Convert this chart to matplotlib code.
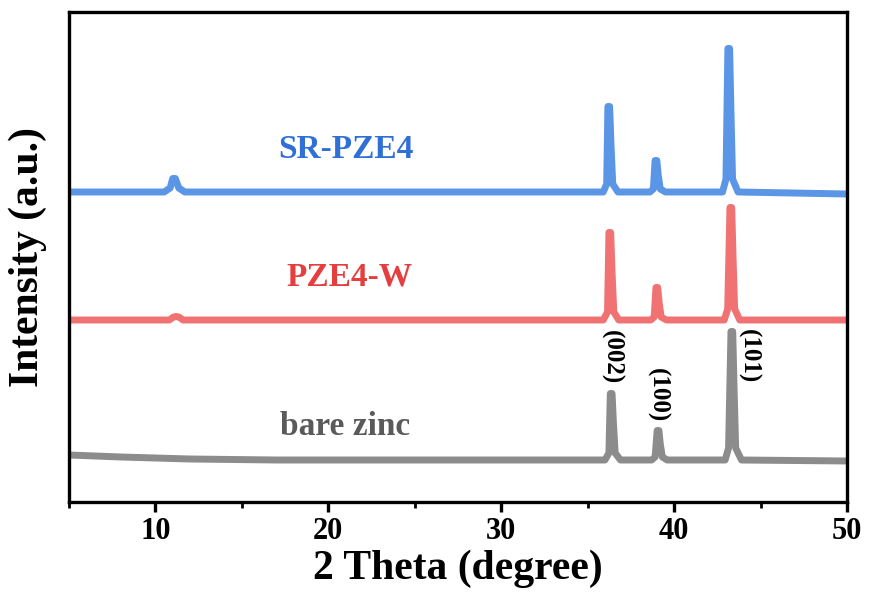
import matplotlib
matplotlib.use("Agg")
import matplotlib.pyplot as plt
from matplotlib.ticker import MultipleLocator

plt.rcParams["font.family"] = ["Liberation Serif", "DejaVu Serif"]
plt.rcParams["font.weight"] = "bold"

# ---- XRD traces: (2-theta, intensity above each trace's own baseline) ----
sr_angle = [5.0, 10.5, 10.85, 11.0, 11.15, 11.35, 11.7, 35.9, 36.1, 36.17, 36.27, 36.35, 36.45, 36.75,
            38.6, 38.8, 38.9, 39.0, 39.08, 39.2, 39.5, 42.8, 43.0, 43.11, 43.21, 43.29, 43.38, 43.7, 50.0]
sr_int = [0, 0, 40, 135, 135, 40, 0, 0, 80, 855, 855, 470, 80, 0,
          0, 30, 315, 315, 170, 30, 0, 0, 130, 1435, 1435, 790, 130, 0, -20]

w_angle = [5.0, 10.8, 11.05, 11.2, 11.35, 11.6, 35.9, 36.15, 36.23, 36.33, 36.41, 36.51, 36.8,
           38.65, 38.85, 38.95, 39.05, 39.13, 39.25, 39.55, 42.9, 43.1, 43.23, 43.33, 43.41, 43.5, 43.8, 50.0]
w_int = [0, 0, 30, 35, 30, 0, 0, 80, 875, 875, 480, 80, 0,
         0, 30, 325, 325, 180, 30, 0, 0, 110, 1125, 1125, 620, 110, 0, 0]

bare_angle = [5.0, 8.0, 12.0, 17.0, 36.0, 36.23, 36.31, 36.41, 36.49, 36.59, 36.9,
              38.7, 38.9, 39.02, 39.12, 39.2, 39.32, 39.6, 42.95, 43.15, 43.29, 43.39, 43.47, 43.56, 43.9, 50.0]
bare_int = [50, 30, 10, 0, 0, 70, 665, 665, 370, 70, 0,
            0, 30, 295, 295, 160, 30, 0, 0, 120, 1285, 1285, 700, 120, 0, -10]

# vertical offsets that stack the three patterns
offsets = {"SR-PZE4": 3100, "PZE4-W": 1820, "bare zinc": 420}

line_colors = {"SR-PZE4": "#5b95e6", "PZE4-W": "#f07272", "bare zinc": "#8c8c8c"}
text_colors = {"SR-PZE4": "#2f6fd6", "PZE4-W": "#e53e3e", "bare zinc": "#5a5a5a"}

# sample name anchors (2-theta, intensity)
name_pos = {"SR-PZE4": (21.0, 3440), "PZE4-W": (21.25, 2170), "bare zinc": (20.95, 670)}

# Miller indices of the zinc reflections
hkl_labels = ["(002)", "(100)", "(101)"]
hkl_angle = [36.35, 39.05, 44.3]
hkl_y = [1450, 1070, 1460]

fig = plt.figure(figsize=(8.7, 5.94), dpi=100)
ax = fig.add_axes([69 / 870, 92 / 594, 778 / 870, 490 / 594])

series = {
    "SR-PZE4": (sr_angle, sr_int),
    "PZE4-W": (w_angle, w_int),
    "bare zinc": (bare_angle, bare_int),
}
for name, (xs, ys) in series.items():
    off = offsets[name]
    ax.plot(xs, [v + off for v in ys], color=line_colors[name], lw=5.0,
            solid_joinstyle="round", solid_capstyle="butt", zorder=2)
    tx, ty = name_pos[name]
    ax.text(tx, ty, name, color=text_colors[name], fontsize=24, fontweight="bold",
            ha="center", va="baseline")

for lab, x, y in zip(hkl_labels, hkl_angle, hkl_y):
    ax.text(x, y, lab, rotation=-90, fontsize=18, fontweight="bold",
            ha="center", va="center", color="black")

ax.set_xlim(5, 50)
ax.set_ylim(0, 4900)
ax.xaxis.set_major_locator(MultipleLocator(10))
ax.xaxis.set_minor_locator(MultipleLocator(5))
ax.set_yticks([])

for sp in ax.spines.values():
    sp.set_linewidth(2.4)
ax.tick_params(axis="x", which="major", direction="out", length=7, width=2.4,
               labelsize=22, pad=4)
ax.tick_params(axis="x", which="minor", direction="out", length=4, width=2.0)
for t in ax.get_xticklabels():
    t.set_fontweight("bold")

ax.set_xlabel("2 Theta (degree)", fontsize=30, fontweight="bold", labelpad=2)
ax.set_ylabel("Intensity (a.u.)", fontsize=30, fontweight="bold", labelpad=16)

fig.savefig("out.png", dpi=100)
